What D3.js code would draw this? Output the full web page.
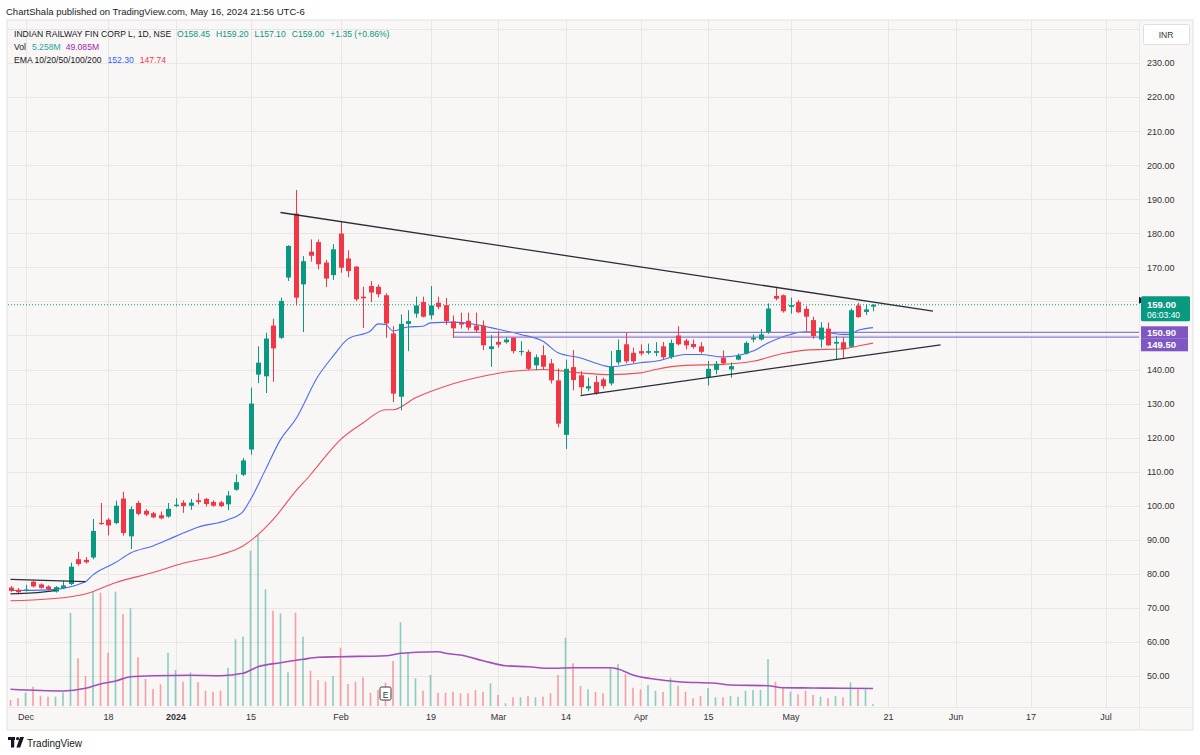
<!DOCTYPE html>
<html><head><meta charset="utf-8">
<script src="https://cdn.jsdelivr.net/npm/d3@7/dist/d3.min.js"></script>
<style>
html,body{margin:0;padding:0;background:#fff;}
svg text{font-family:"Liberation Sans",Arial,sans-serif;}
</style></head>
<body>
<svg id="chart" width="1200" height="755"></svg>
<script>
// ---------- DATA ----------
const dates = ["2023-11-29","2023-11-30","2023-12-01","2023-12-04","2023-12-05","2023-12-06","2023-12-07","2023-12-08","2023-12-11","2023-12-12","2023-12-13","2023-12-14","2023-12-15","2023-12-18","2023-12-19","2023-12-20","2023-12-21","2023-12-22","2023-12-26","2023-12-27","2023-12-28","2023-12-29","2024-01-01","2024-01-02","2024-01-03","2024-01-04","2024-01-05","2024-01-08","2024-01-09","2024-01-10","2024-01-11","2024-01-12","2024-01-15","2024-01-16","2024-01-17","2024-01-18","2024-01-19","2024-01-20","2024-01-23","2024-01-24","2024-01-25","2024-01-29","2024-01-30","2024-01-31","2024-02-01","2024-02-02","2024-02-05","2024-02-06","2024-02-07","2024-02-08","2024-02-09","2024-02-12","2024-02-13","2024-02-14","2024-02-15","2024-02-16","2024-02-19","2024-02-20","2024-02-21","2024-02-22","2024-02-23","2024-02-26","2024-02-27","2024-02-28","2024-02-29","2024-03-01","2024-03-02","2024-03-04","2024-03-05","2024-03-06","2024-03-07","2024-03-11","2024-03-12","2024-03-13","2024-03-14","2024-03-15","2024-03-18","2024-03-19","2024-03-20","2024-03-21","2024-03-22","2024-03-26","2024-03-27","2024-03-28","2024-04-01","2024-04-02","2024-04-03","2024-04-04","2024-04-05","2024-04-08","2024-04-09","2024-04-10","2024-04-12","2024-04-15","2024-04-16","2024-04-18","2024-04-19","2024-04-22","2024-04-23","2024-04-24","2024-04-25","2024-04-26","2024-04-29","2024-04-30","2024-05-02","2024-05-03","2024-05-06","2024-05-07","2024-05-08","2024-05-09","2024-05-10","2024-05-13","2024-05-14","2024-05-15","2024-05-16","2024-05-17"];
const futureDates = ["2024-05-20","2024-05-21","2024-05-22","2024-05-23","2024-05-24","2024-05-27","2024-05-28","2024-05-29","2024-05-30","2024-05-31","2024-06-03","2024-06-04","2024-06-05","2024-06-06","2024-06-07","2024-06-10","2024-06-11","2024-06-12","2024-06-13","2024-06-14","2024-06-17","2024-06-18","2024-06-19","2024-06-20","2024-06-21","2024-06-24","2024-06-25","2024-06-26","2024-06-27","2024-06-28","2024-07-01","2024-07-02","2024-07-03","2024-07-04","2024-07-05"];

const open  = [75.97,75.3,75.2,77.7,76.9,76.3,74.8,75.8,77.0,84.3,84.1,84.8,94.95,95.9,94.9,102.1,91.0,100.8,98.5,97.8,97.2,96.8,99.9,100.9,100.0,101.6,102.0,101.1,101.0,100.4,104.7,109.1,116.5,138.5,138.0,152.9,149.3,167.0,185.8,165.0,174.6,177.4,171.4,167.7,179.9,172.6,170.2,161.4,164.5,164.3,161.8,150.6,132.0,153.4,156.4,159.8,155.9,159.6,158.9,154.1,153.7,154.3,152.9,152.9,146.0,148.1,148.0,149.3,145.1,145.2,141.2,144.2,141.8,136.8,120.8,140.7,138.3,134.4,136.3,137.1,135.9,142.1,147.4,144.9,145.4,144.9,144.9,146.8,143.7,150.0,148.5,147.5,146.8,137.8,139.9,143.4,140.0,142.9,144.7,148.8,148.8,151.0,161.6,161.8,158.4,159.8,157.8,154.5,148.8,152.0,147.6,148.0,146.7,158.8,156.9,158.45];
const high  = [76.4,75.8,76.8,78.0,77.2,76.6,76.4,77.9,83.3,86.5,84.9,96.1,100.8,96.4,101.5,104.1,99.8,101.4,99.0,98.2,98.3,100.8,102.2,101.6,102.0,103.7,102.3,101.6,101.4,104.3,109.2,114.0,134.7,146.8,150.8,154.9,161.1,176.5,192.7,173.3,178.2,178.2,172.2,176.8,183.3,175.0,170.4,164.3,166.0,165.0,162.4,152.7,156.2,157.4,161.4,161.4,164.5,161.4,161.0,155.9,156.7,156.7,156.7,154.4,150.1,151.3,149.5,149.5,148.3,145.8,144.4,147.1,143.1,140.3,142.9,145.7,139.5,137.6,138.2,137.6,145.4,148.8,150.8,146.4,147.4,147.6,148.0,148.1,148.8,152.7,149.0,148.8,148.0,142.5,142.5,145.6,142.1,144.7,148.3,150.3,151.9,159.4,164.3,162.0,161.1,160.4,158.6,155.5,153.9,153.8,149.8,149.5,157.9,159.6,159.1,159.2];
const low   = [74.7,74.2,74.8,76.0,75.6,75.2,74.5,75.5,76.7,82.4,83.0,84.3,94.4,91.3,94.6,91.2,87.3,97.2,96.9,96.3,96.0,96.5,99.6,97.9,98.8,100.4,99.8,99.7,99.6,98.7,104.4,108.7,115.0,136.0,133.1,136.4,149.0,166.0,158.8,151.0,171.7,169.4,164.2,166.3,168.4,167.1,160.1,152.2,159.8,161.2,149.3,130.4,128.0,145.4,155.2,155.3,154.7,157.7,153.1,149.3,152.0,151.5,150.8,145.7,140.8,146.4,147.6,144.7,144.1,139.8,139.8,140.0,135.9,123.0,116.7,133.9,132.6,133.6,132.6,134.3,135.3,141.4,141.8,141.9,144.1,144.4,143.9,143.1,143.1,147.1,145.9,146.1,144.7,135.3,138.6,141.5,137.6,142.7,144.4,148.0,148.5,150.5,160.3,156.7,156.4,156.6,151.3,149.0,146.4,146.9,142.9,143.4,146.4,155.2,156.0,157.1];
const close = [75.0,74.6,75.4,76.3,75.9,75.5,76.1,76.6,82.1,82.9,83.4,92.6,94.6,94.2,100.0,92.0,99.0,97.6,97.4,96.6,96.3,99.1,100.3,99.9,100.9,101.1,100.5,100.0,99.9,103.0,106.9,113.3,130.0,142.0,149.1,146.2,160.1,176.3,161.1,171.8,173.4,170.9,166.7,175.3,169.9,168.9,160.6,160.9,162.6,162.1,153.5,132.9,153.4,154.2,158.8,155.5,158.8,158.4,154.2,152.1,153.2,152.3,151.5,147.1,146.8,147.3,148.8,145.4,145.4,140.2,143.6,140.8,136.8,124.1,140.2,136.9,134.8,135.1,133.1,135.1,140.8,145.7,142.4,142.4,144.7,145.4,145.4,143.6,147.8,147.4,147.1,146.6,145.2,140.2,141.7,141.8,141.0,144.1,147.8,149.3,150.3,157.9,160.8,157.1,158.9,156.8,155.5,149.8,152.3,147.1,148.1,145.9,157.4,155.4,157.65,159.0];
// volume in millions
const volume = [16.8,21.6,37.3,54.1,28.9,26.1,26.1,38.4,261.7,133.8,84.2,319.8,317.8,149.5,320.6,258.1,274.1,136.6,75.7,47.7,60.9,149.5,101,68.2,94.5,66.5,42.9,40.1,42.9,107.4,187.1,194.4,435.6,479.7,327.3,267.3,260,94.5,261.7,194.4,99,72.9,68.2,84.2,163.5,61.7,68.2,80.5,37.3,44.9,65.4,126.2,234.8,149.5,77.7,42.9,87,37.3,37.3,40.1,35.6,35.6,44.9,40.1,63.7,30.9,7.6,24.4,24.4,28.1,24.4,26.1,35.6,87,191.6,119.8,56.1,46.8,39.3,35.6,105.7,117.8,89.8,51.3,46.8,58.9,42.9,39.3,79.4,56.9,40.1,21.6,28.1,50.5,24.4,24.4,28.1,26.1,42.9,44.9,44.9,131,68.2,52.5,40.1,32.8,42.9,30.9,26.1,21.6,28.1,24.4,66.5,46.8,46.8,5.258];

// indicator lines
const ema20Dates = ["2023-11-29","2023-12-06","2023-12-13","2023-12-14","2023-12-19","2023-12-21","2023-12-27","2024-01-01","2024-01-04","2024-01-10","2024-01-12","2024-01-15","2024-01-17","2024-01-19","2024-01-23","2024-01-29","2024-01-31","2024-02-02","2024-02-07","2024-02-08","2024-02-09","2024-02-12","2024-02-14","2024-02-16","2024-02-19","2024-02-22","2024-02-27","2024-03-01","2024-03-05","2024-03-11","2024-03-13","2024-03-18","2024-03-21","2024-03-22","2024-04-01","2024-04-03","2024-04-09","2024-04-12","2024-04-18","2024-04-22","2024-04-24","2024-04-26","2024-05-02","2024-05-06","2024-05-09","2024-05-13","2024-05-14","2024-05-15","2024-05-17"];
const ema20 = [75.1,75.3,77.7,79.7,83.3,86.1,88.2,91.0,93.7,95.9,98.3,101.8,110.6,119.4,125.3,138.0,143.9,149.0,151.3,153.4,153.2,151.3,152.5,152.7,153.7,153.9,153.2,151.8,150.3,148.3,144.9,143.4,141.2,140.8,142.0,142.4,144.4,144.4,143.7,144.1,145.4,147.8,150.3,151.1,150.8,150.3,150.3,151.5,152.3];
const ema50Dates = ["2023-11-29","2023-12-06","2023-12-13","2023-12-19","2023-12-27","2024-01-02","2024-01-09","2024-01-12","2024-01-16","2024-01-18","2024-01-23","2024-01-25","2024-01-29","2024-02-01","2024-02-06","2024-02-09","2024-02-12","2024-02-15","2024-02-21","2024-02-28","2024-03-04","2024-03-11","2024-03-18","2024-03-22","2024-04-01","2024-04-03","2024-04-09","2024-04-18","2024-04-24","2024-04-30","2024-05-06","2024-05-13","2024-05-15","2024-05-17"];
const ema50 = [72.1,72.6,74.1,77.4,80.4,83.1,85.6,88.2,91.5,95.9,104.2,109.1,111.8,119.4,124.3,128.2,128.2,131.7,135.1,138.0,139.5,140.0,139.0,138.5,139.0,140.0,141.2,141.5,142.4,144.7,145.7,146.1,146.9,147.74];
const volMADates = ["2023-11-29","2023-12-08","2023-12-13","2023-12-15","2023-12-19","2023-12-21","2023-12-27","2024-01-03","2024-01-09","2024-01-12","2024-01-16","2024-01-19","2024-01-24","2024-01-29","2024-02-01","2024-02-09","2024-02-13","2024-02-15","2024-02-20","2024-02-21","2024-02-23","2024-02-28","2024-03-02","2024-03-06","2024-03-12","2024-03-15","2024-03-22","2024-03-26","2024-03-28","2024-04-03","2024-04-08","2024-04-16","2024-04-19","2024-04-26","2024-04-30","2024-05-07","2024-05-13","2024-05-17"];
const volMA = [46.8,42.1,49.6,61.7,70.1,82.2,85.0,86.1,85.0,91.7,110.2,121.5,131.0,136.6,138.3,141.1,147.8,150.6,152.3,147.8,143.1,127.1,113.0,110.2,105.7,107.4,107.4,103.8,87.0,74.9,68.2,63.7,58.9,56.9,51.3,50.5,49.6,49.085];

// drawings
const trendDates = [["2024-01-19","2024-05-29"],["2024-03-18","2024-05-30"]];
const trendPrices = [[186.1,157.15],[132.35,147.26]];
const channelTopDates = ["2023-11-29","2023-12-13"];
const channelTop = [78.4,77.7];
const channelBotDates = ["2023-11-29","2023-12-04","2023-12-07"];
const channelBot = [74.1,74.4,75.1];
const levelStart = "2024-02-22";
const levels = [150.90,149.50];
const lastPrice = 159.00;
const earningsDate = "2024-02-09";

const priceTicks = [50,60,70,80,90,100,110,120,130,140,150,160,170,180,190,200,210,220,230,240];
const priceLabels = [50,60,70,80,90,100,110,120,130,140,170,180,190,200,210,220,230];
const tickDates = ["2023-12-01","2023-12-18","2024-01-01","2024-01-15","2024-02-01","2024-02-19","2024-03-01","2024-03-14","2024-04-01","2024-04-15","2024-05-02","2024-05-21","2024-06-03","2024-06-17","2024-07-01"];
const tickLabels = ["Dec","18","2024","15","Feb","19","Mar","14","Apr","15","May","21","Jun","17","Jul"];

// ---------- LAYOUT ----------
const W = 1200, H = 755;
const panel = {left:7, top:20, right:1193, bottom:730};
const plot = {left:8, top:20, right:1139, bottom:707};
const BG = "#f9f6f6", GRID = "#ebe6e6";
const UP = "#089981", DOWN = "#f23645";
const TXT = "#131722";

const svg = d3.select("#chart");
svg.append("rect").attr("width",W).attr("height",H).attr("fill","#fff");
svg.append("rect").attr("x",panel.left).attr("y",panel.top)
  .attr("width",panel.right-panel.left).attr("height",panel.bottom-panel.top)
  .attr("fill",BG).attr("stroke","#e4e0e0");

const allDates = dates.concat(futureDates);
const step = 7.5;
const x = d3.scalePoint().domain(allDates).range([10.5, 10.5 + step*(allDates.length-1)]);
const y = d3.scaleLinear().domain([50,230]).range([676,63]);
const yv = d3.scaleLinear().domain([0,100]).range([706,670.35]);

svg.append("clipPath").attr("id","clip").append("rect")
  .attr("x",plot.left).attr("y",plot.top).attr("width",plot.right-plot.left).attr("height",plot.bottom-plot.top);

// grid
const grid = svg.append("g").attr("clip-path","url(#clip)");
grid.selectAll(".hg").data(priceTicks).join("line")
  .attr("x1",plot.left).attr("x2",plot.right).attr("y1",d=>Math.round(y(d))+0.5).attr("y2",d=>Math.round(y(d))+0.5)
  .attr("stroke",GRID).attr("stroke-width",1);
grid.selectAll(".vg").data(tickDates).join("line")
  .attr("y1",plot.top).attr("y2",plot.bottom).attr("x1",d=>Math.round(x(d))+0.5).attr("x2",d=>Math.round(x(d))+0.5)
  .attr("stroke",GRID).attr("stroke-width",1);

// separators
svg.append("line").attr("x1",panel.left).attr("x2",panel.right).attr("y1",plot.bottom+0.5).attr("y2",plot.bottom+0.5).attr("stroke","#ece8e8");
svg.append("line").attr("x1",plot.right+0.5).attr("x2",plot.right+0.5).attr("y1",panel.top).attr("y2",panel.bottom).attr("stroke","#ece8e8");

const g = svg.append("g").attr("clip-path","url(#clip)");

const bars = dates.map((d,i)=>({d, o:open[i], h:high[i], l:low[i], c:close[i], v:volume[i]}));

// volume
g.selectAll(".vol").data(bars).join("rect")
  .attr("x",d=>x(d.d)-0.8).attr("width",1.6)
  .attr("y",d=>yv(d.v)).attr("height",d=>yv(0)-yv(d.v))
  .attr("fill",d=>d.c>=d.o?"rgba(8,153,129,0.45)":"rgba(242,54,69,0.45)");

// volume MA
const lineGen = (ds,vs,sc)=>d3.line().x((v,i)=>x(ds[i])).y(v=>sc(v)).curve(d3.curveMonotoneX)(vs);
g.append("path").attr("d",lineGen(volMADates,volMA,yv)).attr("fill","none").attr("stroke","#a04fbb").attr("stroke-width",1.6);

// EMA lines
g.append("path").attr("d",lineGen(ema50Dates,ema50,y)).attr("fill","none").attr("stroke","#ec4f5c").attr("stroke-width",1.1);
g.append("path").attr("d",lineGen(ema20Dates,ema20,y)).attr("fill","none").attr("stroke","#4a6cf0").attr("stroke-width",1.1);

// horizontal levels
g.selectAll(".lvl").data(levels).join("line")
  .attr("x1",x(levelStart)).attr("x2",plot.right)
  .attr("y1",d=>y(d)).attr("y2",d=>y(d))
  .attr("stroke","#8e7bd0").attr("stroke-width",1.3);

// current price dotted
g.append("line").attr("x1",plot.left).attr("x2",plot.right).attr("y1",y(lastPrice)).attr("y2",y(lastPrice))
  .attr("stroke",UP).attr("stroke-width",1).attr("stroke-dasharray","1,2");

// candles
const cg = g.selectAll(".c").data(bars).join("g");
cg.append("line").attr("x1",d=>Math.round(x(d.d))+0.5).attr("x2",d=>Math.round(x(d.d))+0.5)
  .attr("y1",d=>y(d.h)).attr("y2",d=>y(d.l))
  .attr("stroke",d=>d.c>=d.o?UP:DOWN).attr("stroke-width",1);
cg.append("rect").attr("x",d=>Math.round(x(d.d))-2).attr("width",5)
  .attr("y",d=>y(Math.max(d.o,d.c))).attr("height",d=>Math.max(1,y(Math.min(d.o,d.c))-y(Math.max(d.o,d.c))))
  .attr("fill",d=>d.c>=d.o?UP:DOWN);

// trend lines
trendDates.forEach((td,k)=>{
  g.append("line").attr("x1",x(td[0])).attr("y1",y(trendPrices[k][0]))
   .attr("x2",x(td[1])).attr("y2",y(trendPrices[k][1]))
   .attr("stroke","#2a2e39").attr("stroke-width",1.3);
});
g.append("path").attr("d",lineGen(channelTopDates,channelTop,y)).attr("fill","none").attr("stroke","#2a2e39").attr("stroke-width",1.3);
g.append("path").attr("d",lineGen(channelBotDates,channelBot,y)).attr("fill","none").attr("stroke","#2a2e39").attr("stroke-width",1.3);

// earnings marker
const ex = x(earningsDate);
svg.append("rect").attr("x",ex-5.5).attr("y",687).attr("width",11).attr("height",13).attr("rx",1.5)
  .attr("fill","#fff").attr("stroke","#3a3a3a").attr("stroke-width",1);
svg.append("text").attr("x",ex).attr("y",697.5).attr("text-anchor","middle").attr("font-size",8.5).attr("fill","#333").text("E");

// right axis
const ya = svg.append("g").attr("transform",`translate(${plot.right},0)`)
  .call(d3.axisRight(y).tickValues(priceLabels).tickFormat(d3.format(".2f")).tickSize(0).tickPadding(8));
ya.select(".domain").remove();
ya.selectAll("text").attr("font-size",9).attr("fill","#333").attr("font-family","Liberation Sans, Arial, sans-serif");

// bottom axis
const xa = svg.append("g").attr("transform",`translate(0,${plot.bottom})`)
  .call(d3.axisBottom(x).tickValues(tickDates).tickFormat((d,i)=>tickLabels[i]).tickSize(0).tickPadding(7));
xa.select(".domain").remove();
xa.selectAll("text").attr("font-size",9).attr("fill","#333").attr("font-family","Liberation Sans, Arial, sans-serif")
  .attr("font-weight",(d,i)=>tickLabels[i]==="2024"?"bold":"normal");

// INR box
svg.append("rect").attr("x",1143.5).attr("y",24.5).attr("width",46).attr("height",20).attr("rx",2)
  .attr("fill","#fff").attr("stroke","#e2dede");
svg.append("text").attr("x",1166).attr("y",37.5).attr("text-anchor","middle").attr("font-size",8.5).attr("fill","#333").text("INR");

// current price label
const yp = y(lastPrice);
svg.append("path").attr("d",`M${plot.right},${yp-8} L${plot.right+6},${yp-4.5} L${plot.right},${yp-1} Z`).attr("fill","#131722");
svg.append("rect").attr("x",1141).attr("y",yp-8.5).attr("width",49).attr("height",25).attr("rx",1.5).attr("fill",UP);
svg.append("text").attr("x",1147).attr("y",yp+3).attr("font-size",9.5).attr("font-weight","bold").attr("fill","#fff").text(d3.format(".2f")(lastPrice));
svg.append("text").attr("x",1147).attr("y",yp+13.5).attr("font-size",8.5).attr("fill","#fff").text("06:03:40");

// level labels (stacked)
levels.forEach((lv,k)=>{
  const top = yp + 21.5 + k*12.5;
  svg.append("rect").attr("x",1141).attr("y",top).attr("width",47).attr("height",12.5).attr("fill","#7e57c2");
  svg.append("text").attr("x",1147).attr("y",top+9.5).attr("font-size",9.5).attr("font-weight","bold").attr("fill","#fff").text(d3.format(".2f")(lv));
});

// header texts
svg.append("text").attr("x",6).attr("y",14.5).attr("font-size",9.5).attr("fill","#222")
  .text("ChartShala published on TradingView.com, May 16, 2024 21:56 UTC-6");

const HF = 8.6;
const l1 = svg.append("text").attr("x",14).attr("y",36.5).attr("font-size",HF).attr("fill",TXT);
l1.append("tspan").text("INDIAN RAILWAY FIN CORP L, 1D, NSE");
[["O","158.45"],["H","159.20"],["L","157.10"],["C","159.00"]].forEach(([k,v])=>{
  l1.append("tspan").attr("dx",6).attr("fill",UP).text(k);
  l1.append("tspan").attr("fill",UP).text(v);
});
l1.append("tspan").attr("dx",6).attr("fill",UP).text("+1.35 (+0.86%)");

const l2 = svg.append("text").attr("x",14).attr("y",49.5).attr("font-size",HF).attr("fill",TXT);
l2.append("tspan").text("Vol");
l2.append("tspan").attr("dx",6).attr("fill","#26a69a").text("5.258M");
l2.append("tspan").attr("dx",5).attr("fill","#9c27b0").text("49.085M");

const l3 = svg.append("text").attr("x",14).attr("y",62.5).attr("font-size",HF).attr("fill",TXT);
l3.append("tspan").text("EMA 10/20/50/100/200");
l3.append("tspan").attr("dx",6).attr("fill","#2962ff").text("152.30");
l3.append("tspan").attr("dx",6).attr("fill",DOWN).text("147.74");

// footer logo
const lg = svg.append("g").attr("fill","#131722");
lg.append("rect").attr("x",8).attr("y",737).attr("width",7).attr("height",3);
lg.append("rect").attr("x",11).attr("y",737).attr("width",3.2).attr("height",10.5);
lg.append("circle").attr("cx",17.6).attr("cy",738.6).attr("r",1.6);
lg.append("path").attr("d","M20,737 L24,737 L20.2,747.5 L16.4,747.5 Z");
svg.append("text").attr("x",27).attr("y",746.5).attr("font-size",10).attr("fill","#131722").text("TradingView");
</script>
</body></html>
